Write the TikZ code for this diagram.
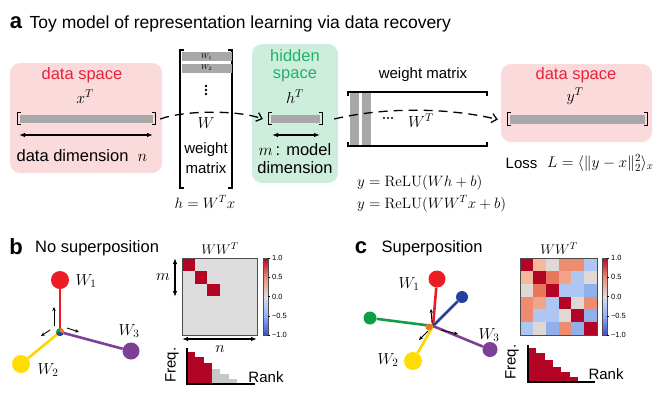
\RequirePackage{fix-cm}
\documentclass[tikz,border=0pt]{standalone}
\usepackage[no-math]{fontspec}
\setmainfont{Liberation Sans}
\usetikzlibrary{arrows.meta,calc}
\definecolor{dsred}{HTML}{E5233A}
\definecolor{dspink}{HTML}{FBDADC}
\definecolor{hsgreen}{HTML}{23B26B}
\definecolor{hsbg}{HTML}{CDEEDC}
\definecolor{bargray}{HTML}{A8A8A8}
\definecolor{cwred}{HTML}{B40426}
\definecolor{cwsal}{HTML}{F08B6E}
\definecolor{cwgray}{HTML}{DDDDDD}
\definecolor{cwlblue}{HTML}{8DB0FE}
\definecolor{cwblue}{HTML}{3B4CC0}
\definecolor{vred}{HTML}{EC1C24}
\definecolor{vyellow}{HTML}{FFDD00}
\definecolor{vpurple}{HTML}{7D3F98}
\definecolor{vgreen}{HTML}{0F9D48}
\definecolor{vblue}{HTML}{24409A}
\definecolor{vorange}{HTML}{E8762C}
\definecolor{rankgray}{HTML}{C8C8C8}
\definecolor{hD}{HTML}{B40426}
\definecolor{hP}{HTML}{F5B89D}
\definecolor{hQ}{HTML}{F2A488}
\definecolor{hG}{HTML}{DFD8D5}
\definecolor{hS}{HTML}{EE8C70}
\definecolor{hT}{HTML}{E8765A}
\definecolor{hL}{HTML}{AEC6F2}
\definecolor{hM}{HTML}{90AFEB}
\begin{document}
\begin{tikzpicture}[x=1pt,y=-1pt,
  txt/.style={font=\fontsize{15}{17}\selectfont, inner sep=0pt},
  bigtxt/.style={font=\fontsize{16.5}{19}\selectfont, inner sep=0pt},
  paneltitle/.style={font=\fontsize{16.5}{19}\selectfont, inner sep=0pt, anchor=west},
  panelletter/.style={font=\fontsize{22}{24}\selectfont\bfseries, inner sep=0pt},
  mth/.style={font=\fontsize{16}{18}\selectfont, inner sep=0pt},
  bar/.style={fill=bargray, minimum height=8, inner sep=0pt},
  brk/.style={line width=1.3pt},
  darrow/.style={line width=1.2pt, {Latex[length=6pt,width=4.5pt]}-{Latex[length=6pt,width=4.5pt]}},
  flow/.style={line width=1.3pt, dash pattern=on 9pt off 6pt, -{Straight Barb[length=5pt,width=9pt]}},
  vec/.style={line width=2.6pt},
  ball/.style={circle, inner sep=0pt, minimum size=#1},
  tinyarrow/.style={line width=0.9pt, -{Stealth[length=4pt,width=3.5pt]}},
  cbtick/.style={font=\fontsize{7.5}{8}\selectfont, inner sep=0pt, anchor=west},
  axisline/.style={line width=1.6pt},
  hmframe/.style={draw=black!70, line width=0.6pt},
  labtxt/.style={font=\fontsize{15}{17}\selectfont, inner sep=0pt},
]
\useasboundingbox (0,0) rectangle (663,397);
% ---------------- panel a ----------------
\node[panelletter] (la) at (16,23) {a};
\node[paneltitle, font=\fontsize{17.5}{20}\selectfont] (ta) at (29.5,24) {Toy model of representation learning via data recovery};

% left data space
\node[fill=dspink, rounded corners=10pt, minimum width=152, minimum height=110, inner sep=0pt] (xbox) at (86,118) {};
\node[bigtxt, text=dsred] (xds) at (82,75) {data space};
\node[mth] (xT) at (85,97) {$x^T$};
\node[bar, minimum width=133] (xbar) at (86.5,119) {};
\draw[brk] ($(xbar.north west)+(1,-2)$) -- ++(-3.5,0) -- ++(0,12) -- ++(3.5,0);
\draw[brk] ($(xbar.north east)+(-1,-2)$) -- ++(3.5,0) -- ++(0,12) -- ++(-3.5,0);
\coordinate (xnL) at (19,135);
\coordinate (xnR) at (153,135);
\draw[darrow] (xnL) -- (xnR);
\node[bigtxt] (xdim) at (82,156) {data dimension \ $n$};

% weight matrix W
\draw[brk] (184,50) -- (180,50) -- (180,188) -- (184,188);
\draw[brk] (228,50) -- (232,50) -- (232,188) -- (228,188);
\node[fill=bargray, minimum width=50, minimum height=9.5, inner sep=0pt, font=\fontsize{7}{8}\selectfont] (w1) at (206.5,56.5) {$W_1$};
\node[fill=bargray, minimum width=50, minimum height=9, inner sep=0pt, font=\fontsize{7}{8}\selectfont] (w2) at (206.5,68) {$W_2$};
\fill (206,86) circle (1.3) (206,90) circle (1.3) (206,94) circle (1.3);
\node[mth] (wW) at (206,123) {$W$};
\node[txt] (wweight) at (206,150) {weight};
\node[txt] (wmatrix) at (206,168) {matrix};
\node[mth, font=\fontsize{15}{17}\selectfont] (heq) at (205,202) {$h=W^Tx$};

% hidden space
\node[fill=hsbg, rounded corners=10pt, minimum width=86, minimum height=139, inner sep=0pt] (hbox) at (295,113.5) {};
\node[bigtxt, text=hsgreen] (hhid) at (295,56) {hidden};
\node[bigtxt, text=hsgreen] (hsp) at (295,76) {space};
\node[mth] (hT) at (295,97) {$h^T$};
\node[bar, minimum width=49] (hbar) at (295.5,119) {};
\draw[brk] ($(hbar.north west)+(1,-2)$) -- ++(-3.5,0) -- ++(0,12) -- ++(3.5,0);
\draw[brk] ($(hbar.north east)+(-1,-2)$) -- ++(3.5,0) -- ++(0,12) -- ++(-3.5,0);
\coordinate (hmL) at (272,135);
\coordinate (hmR) at (320,135);
\draw[darrow] (hmL) -- (hmR);
\node[bigtxt] (hm1) at (295,150) {$m$\,: model};
\node[bigtxt] (hm2) at (295,168) {dimension};

% weight matrix W^T
\node[fill=bargray, minimum width=8.5, minimum height=54, inner sep=0pt] (c1) at (354.3,119) {};
\node[fill=bargray, minimum width=8.5, minimum height=54, inner sep=0pt] (c2) at (366.3,119) {};
\draw[brk] (348,96) -- (348,92) -- (487,92) -- (487,96);
\draw[brk] (348,142) -- (348,146) -- (487,146) -- (487,142);
\fill (384,118) circle (1.1) (388,118) circle (1.1) (392,118) circle (1.1);
\node[mth] (wWT) at (421,121) {$W^T$};
\node[txt] (wwm) at (423,75) {weight matrix};

% right data space
\node[fill=dspink, rounded corners=10pt, minimum width=151, minimum height=78, inner sep=0pt] (ybox) at (576.5,103) {};
\node[bigtxt, text=dsred] (yds) at (576,75) {data space};
\node[mth] (yT) at (575,96) {$y^T$};
\node[bar, minimum width=135, minimum height=9] (ybar) at (577.5,119.5) {};
\draw[brk] ($(ybar.north west)+(1,-2)$) -- ++(-3.5,0) -- ++(0,13) -- ++(3.5,0);
\draw[brk] ($(ybar.north east)+(-1,-2)$) -- ++(3.5,0) -- ++(0,13) -- ++(-3.5,0);

% flows
\draw[flow] ([xshift=7]xbar.east) .. controls +(25,-9) and +(-25,-9) .. ([xshift=-8]hbar.west);
\draw[flow] ([xshift=14]hbar.east) .. controls +(50,-12) and +(-50,-12) .. ([xshift=-12]ybar.west);

\node[txt, anchor=west] (loss) at (505.5,163) {Loss};
\node[mth, font=\fontsize{15.5}{17}\selectfont, anchor=west] (lossf) at (547,163) {$L=\langle\|y-x\|_2^2\rangle_x$};
\node[mth, font=\fontsize{15}{17}\selectfont, anchor=west] (eq1) at (357,183) {$y=\mathrm{ReLU}(Wh+b)$};
\node[mth, font=\fontsize{15}{17}\selectfont, anchor=west] (eq2) at (357,204) {$y=\mathrm{ReLU}(WW^Tx+b)$};

% ---------------- panel b ----------------
\node[panelletter] (lb) at (16,247) {b};
\node[paneltitle] (tb) at (35,248) {No superposition};

\coordinate (bO) at (60,332);
\node[ball=18, fill=vred] (bW1) at (60,280) {};
\node[ball=18, fill=vyellow] (bW2) at (21,364) {};
\node[ball=17, fill=vpurple] (bW3) at (131,351) {};
\draw[vec, vred] (bO) -- (bW1);
\draw[vec, vyellow!90!orange] (bO) -- (bW2);
\draw[vec, vpurple] (bO) -- (bW3);
\fill[vgreen] (bO) circle (4);
\fill[vorange] (bO) -- ++(30:4) arc (30:-90:4) -- cycle;
\fill[vblue] (bO) -- ++(30:4) arc (30:160:4) -- cycle;
\coordinate (bu1) at (54,326); \coordinate (bu2) at (54,307);
\coordinate (bl1) at (50,330); \coordinate (bl2) at (41,336);
\coordinate (br1) at (67,328); \coordinate (br2) at (79,332);
\draw[tinyarrow] (bu1) -- (bu2);
\draw[tinyarrow] (bl1) -- (bl2);
\draw[tinyarrow] (br1) -- (br2);
\node[mth] (bL1) at (86,281) {$W_1$};
\node[mth] (bL2) at (48,370) {$W_2$};
\node[mth] (bL3) at (129,331) {$W_3$};

% heatmap b
\node[fill=cwgray, minimum width=75, minimum height=77, inner sep=0pt, anchor=north west] (hmb) at (182,258) {};
\foreach \i in {0,1,2} \fill[cwred] ($(hmb.north west)+(12.5*\i,12.83*\i)$) rectangle ++(12.5,12.83);
\draw[hmframe] (hmb.north west) rectangle (hmb.south east);
\node[mth, font=\fontsize{14}{16}\selectfont] (bWW) at (220,249) {$WW^T$};
\node[minimum width=5, minimum height=77, inner sep=0pt, anchor=north west] (cbb) at (263,258) {};
\shade[top color=cwred, bottom color=cwsal] (cbb.north west) rectangle ($(cbb.north east)+(0,19.25)$);
\shade[top color=cwsal, bottom color=cwgray] ($(cbb.north west)+(0,19.25)$) rectangle ($(cbb.north east)+(0,38.5)$);
\shade[top color=cwgray, bottom color=cwlblue] ($(cbb.north west)+(0,38.5)$) rectangle ($(cbb.north east)+(0,57.75)$);
\shade[top color=cwlblue, bottom color=cwblue] ($(cbb.north west)+(0,57.75)$) rectangle (cbb.south east);
\draw[hmframe] (cbb.north west) rectangle (cbb.south east);
\foreach \t [count=\k from 0] in {1.0,0.5,0.0,−0.5,−1.0} {
  \draw[line width=0.5pt] ($(cbb.north east)+(0,19.25*\k)$) -- ++(2,0);
  \node[cbtick] (bcb\k) at ($(cbb.north east)+(3.5,19.25*\k)$) {\t};
}
\coordinate (bmT) at (175,258); \coordinate (bmB) at (175,297);
\draw[darrow, line width=1.8pt] (bmT) -- (bmB);
\node[mth] (bm) at (163,277) {$m$};
\coordinate (bnL) at (182,339); \coordinate (bnR) at (257,339);
\draw[darrow] (bnL) -- (bnR);
\node[mth] (bn) at (220,349) {$n$};
\coordinate (bfO) at (187,384);
\foreach \h [count=\k from 0] in {32,27,21} \fill[cwred] ($(bfO)+(8.3*\k,0)$) rectangle ++(8.3,-\h);
\foreach \h [count=\k from 3] in {15,10,5} \fill[rankgray] ($(bfO)+(8.3*\k,0)$) rectangle ++(8.3,-\h);
\draw[axisline] (187,348) -- (bfO) -- (255,384);
\node[labtxt, rotate=90] (bfreq) at (172,365) {Freq.};
\node[labtxt] (brank) at (266,377) {Rank};

% ---------------- panel c ----------------
\node[panelletter] (lc) at (361,248) {c};
\node[paneltitle] (tc) at (381.5,248) {Superposition};

\coordinate (cO) at (433,326);
\node[ball=17, fill=vred] (cW1) at (437,279) {};
\node[ball=12, fill=vblue] (cWb) at (462,297) {};
\node[ball=13, fill=vgreen] (cWg) at (370,318) {};
\node[ball=18, fill=vyellow] (cW2) at (413,361) {};
\node[ball=15, fill=vpurple] (cW3) at (490,349.5) {};
\draw[vec, vred] (cO) -- (cW1);
\draw[vec, vblue] (cO) -- (cWb);
\draw[vec, vgreen] (cO) -- (cWg);
\draw[vec, vyellow!90!orange] (cO) -- (cW2);
\draw[vec, vpurple] (cO) -- (cW3);
\fill[vorange] (429,327) circle (3.5);
\coordinate (cu1) at (432,323); \coordinate (cu2) at (431,309);
\coordinate (cl1) at (428,331); \coordinate (cl2) at (419,340);
\coordinate (cr1) at (441,330); \coordinate (cr2) at (458,334);
\draw[tinyarrow] (cu1) -- (cu2);
\draw[tinyarrow] (cl1) -- (cl2);
\draw[tinyarrow] (cr1) -- (cr2);
\node[mth] (cL1) at (409,284) {$W_1$};
\node[mth] (cL2) at (388,360) {$W_2$};
\node[mth] (cL3) at (489,335) {$W_3$};

% heatmap c
\node[minimum width=77, minimum height=77, inner sep=0pt, anchor=north west] (hmc) at (520,258) {};
\foreach \i/\j/\c in {
  0/0/hD,1/0/hP,2/0/hG,3/0/hS,4/0/hS,5/0/hL,
  0/1/hP,1/1/hD,2/1/hT,3/1/hQ,4/1/hL,5/1/hG,
  0/2/hG,1/2/hT,2/2/hD,3/2/hL,4/2/hL,5/2/hM,
  0/3/hS,1/3/hQ,2/3/hL,3/3/hD,4/3/hG,5/3/hS,
  0/4/hS,1/4/hL,2/4/hL,3/4/hG,4/4/hD,5/4/hM,
  0/5/hL,1/5/hG,2/5/hM,3/5/hS,4/5/hM,5/5/hD} {
  \fill[\c] ($(hmc.north west)+(12.833*\i,12.833*\j)$) rectangle ++(12.833,12.833);
}
\draw[hmframe] (hmc.north west) rectangle (hmc.south east);
\node[mth, font=\fontsize{14}{16}\selectfont] (cWW) at (559,249) {$WW^T$};
\node[minimum width=5, minimum height=77, inner sep=0pt, anchor=north west] (cbc) at (602,258) {};
\shade[top color=cwred, bottom color=cwsal] (cbc.north west) rectangle ($(cbc.north east)+(0,19.25)$);
\shade[top color=cwsal, bottom color=cwgray] ($(cbc.north west)+(0,19.25)$) rectangle ($(cbc.north east)+(0,38.5)$);
\shade[top color=cwgray, bottom color=cwlblue] ($(cbc.north west)+(0,38.5)$) rectangle ($(cbc.north east)+(0,57.75)$);
\shade[top color=cwlblue, bottom color=cwblue] ($(cbc.north west)+(0,57.75)$) rectangle (cbc.south east);
\draw[hmframe] (cbc.north west) rectangle (cbc.south east);
\foreach \t [count=\k from 0] in {1.0,0.5,0.0,−0.5,−1.0} {
  \draw[line width=0.5pt] ($(cbc.north east)+(0,19.25*\k)$) -- ++(2,0);
  \node[cbtick] (ccb\k) at ($(cbc.north east)+(3.5,19.25*\k)$) {\t};
}
\coordinate (cfO) at (528,382);
\foreach \h [count=\k from 0] in {34,29,22,15,10,5} \fill[cwred] ($(cfO)+(8.3*\k,0)$) rectangle ++(8.4,-\h);
\draw[axisline] (528,345) -- (cfO) -- (595,382);
\node[labtxt, rotate=90] (cfreq) at (512,362) {Freq.};
\node[labtxt] (crank) at (606,374) {Rank};
\end{tikzpicture}
\end{document}
